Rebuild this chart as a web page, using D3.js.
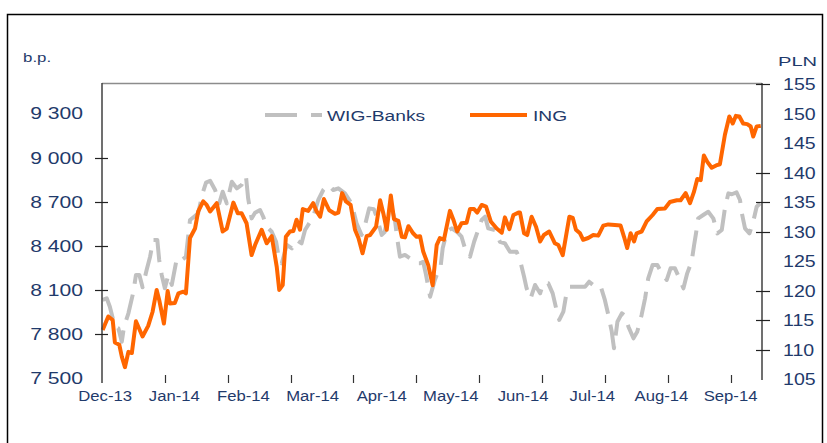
<!DOCTYPE html>
<html><head><meta charset="utf-8">
<script src="https://cdn.jsdelivr.net/npm/d3@7"></script>
<style>html,body{margin:0;padding:0;background:#fff;overflow:hidden}</style>
</head><body><div id="chart"></div>
<script>
// ---------- DATA ----------
const monthLabels = ["Dec-13","Jan-14","Feb-14","Mar-14","Apr-14","May-14","Jun-14","Jul-14","Aug-14","Sep-14"];
const monthLabelDays = [1,23,45,67,89,111,134,156,178,200];   // trading-day index of each label
const monthTickDays = [20,40,60,80,100,120,140,160,180,200];   // trading-day index of x tick marks
const leftTickLabels = [7500,7800,8100,8400,8700,9000,9300];
const leftTickMarks = [7800,8100,8400,8700,9000];
const rightTickLabels = [105,110,115,120,125,130,135,140,145,150,155];
const rightTickMarks = [110,115,120,130,135,140,155];
const seriesNames = ["WIG-Banks","ING"];

const ingDay = [0.2,2.0,3.4,4.1,5.5,6.3,7.3,8.4,9.5,10.8,
12.9,14.7,16.1,17.4,18.2,19.7,20.9,21.6,23.2,24.3,
25.9,26.7,28.0,29.6,30.6,32.2,33.3,34.4,36.5,38.4,
39.7,41.8,43.2,44.4,46.0,47.6,48.7,50.8,52.4,54.0,
55.6,56.4,57.5,58.5,59.8,60.9,61.9,63.0,63.9,65.6,
67.2,68.3,69.4,70.6,72.3,74.1,75.2,76.4,77.6,79.1,
80.5,81.6,82.9,84.2,85.3,87.2,88.5,89.5,90.6,91.9,
92.9,94.3,95.4,96.4,97.5,99.0,100.1,101.2,102.2,103.8,
105.2,106.5,107.5,108.8,110.7,111.8,113.0,114.4,116.0,117.1,
118.4,119.4,120.8,122.2,123.7,125.6,127.2,128.2,129.6,130.9,
132.5,133.0,134.3,135.3,136.7,138.1,139.4,140.6,142.3,144.1,
145.2,146.6,147.6,148.7,149.8,150.8,152.1,153.1,154.7,156.3,
157.9,159.5,161.1,163.2,165.0,166.1,167.1,168.2,169.3,170.1,
171.7,173.3,175.2,176.7,179.1,180.7,182.9,184.1,185.7,187.1,
188.4,189.4,190.5,191.5,192.6,194.0,195.4,196.6,198.2,199.6,
200.7,201.7,202.8,204.0,205.3,206.4,207.2,208.3,209.6];
const ingValue = [113.3,115.6,115.0,111.2,110.8,108.8,107.0,109.6,109.4,114.8,
112.2,114.0,116.4,120.1,118.4,114.4,119.9,117.8,117.9,119.5,
119.8,119.5,128.9,130.5,133.4,135.1,134.5,133.4,134.8,130.0,
130.5,134.9,133.1,133.1,131.4,126.0,127.7,130.3,128.0,129.2,
124.0,120.1,120.9,129.1,130.0,130.1,132.0,130.3,133.8,133.5,
134.8,133.4,132.5,135.5,133.6,133.0,133.2,136.5,135.1,134.5,
130.3,128.9,126.3,129.2,129.4,130.8,135.3,133.1,130.3,136.1,
132.1,131.8,129.1,129.0,130.9,129.7,129.1,129.2,126.6,124.3,
120.9,127.7,128.9,128.6,133.5,132.0,130.0,131.4,131.5,133.8,
133.8,133.2,134.5,134.2,131.7,130.5,129.8,132.4,130.4,132.8,
133.2,133.2,129.7,129.4,132.5,130.8,128.3,129.4,130.0,128.0,
127.7,126.0,129.1,132.5,132.3,130.3,129.7,128.6,128.9,129.4,
129.3,131.0,131.2,131.1,131.0,129.1,127.2,129.7,128.3,129.7,
130.0,131.7,132.8,133.8,133.9,135.0,135.3,135.3,136.5,134.8,
136.8,138.9,138.7,142.9,141.8,140.8,141.2,141.4,146.4,149.5,
148.3,149.6,149.5,148.3,148.2,147.8,146.1,147.8,147.9];

const wigDay = [0.2,1.5,2.5,4.1,5.2,6.3,7.0,8.4,10.0,10.8,
11.9,12.9,14.2,15.3,16.3,17.6,18.2,19.0,20.0,21.1,
22.2,23.8,25.4,26.7,28.0,29.3,30.6,32.0,33.1,34.4,
36.0,37.3,38.4,39.7,41.3,42.9,44.4,45.8,46.5,47.6,
48.7,50.3,51.3,52.4,54.0,55.4,56.1,57.2,58.8,60.4,
61.9,63.5,64.6,65.6,67.2,68.8,70.4,72.0,73.6,75.2,
77.3,79.4,81.0,82.6,83.7,85.0,86.5,87.4,89.0,90.0,
91.1,92.2,93.2,94.0,94.8,96.4,98.0,100.1,101.2,102.2,
103.1,104.4,105.9,107.8,108.4,109.7,111.3,112.9,114.4,115.5,
117.1,118.4,119.7,120.8,121.9,122.9,125.0,126.6,128.2,129.8,
131.9,133.0,134.3,135.1,136.4,137.8,139.4,140.4,142.0,143.4,
144.5,145.5,146.8,147.6,148.9,151.0,153.7,155.0,156.9,158.7,
160.0,161.1,162.2,162.9,164.0,165.4,166.4,167.5,169.1,170.3,
171.7,172.8,173.8,175.2,176.7,178.4,179.7,180.9,182.3,183.7,
185.0,186.2,187.6,188.4,189.0,189.7,191.3,192.9,194.5,195.8,
197.2,198.2,199.3,200.4,201.9,203.0,203.6,204.6,206.0,207.2,
208.3,209.4];
const wigValue = [8031,8042,7985,7849,7838,7747,7849,7940,8087,8201,
8201,8117,8235,8325,8439,8439,8303,8201,8110,8201,
8133,8314,8303,8325,8575,8597,8620,8756,8829,8842,
8779,8688,8767,8688,8835,8790,8813,8874,8722,8586,
8624,8643,8597,8529,8495,8427,8337,8280,8405,8382,
8439,8416,8507,8541,8597,8711,8779,8813,8779,8790,
8756,8688,8552,8473,8541,8654,8648,8597,8473,8495,
8643,8654,8575,8439,8325,8337,8314,8280,8280,8291,
8201,8053,8167,8269,8382,8495,8518,8495,8461,8382,
8325,8427,8507,8575,8597,8518,8507,8427,8416,8359,
8359,8303,8189,8110,8042,8133,8076,8144,8144,8076,
7974,7895,7951,8053,8121,8121,8121,8155,8121,8121,
8031,7929,7815,7702,7883,7940,7924,7849,7770,7815,
7929,8042,8178,8269,8269,8201,8167,8246,8246,8178,
8110,8212,8291,8405,8484,8586,8609,8631,8586,8484,
8507,8654,8756,8750,8763,8711,8620,8518,8484,8563,
8665,8688];

// ---------- CHART ----------
const W = 827, H = 443;
const plot = {left:102, right:762, top:84, bottom:379};
const textColor = "#1F3A6B";
const font = "'Liberation Sans', Arial, sans-serif";

const svg = d3.select("#chart").append("svg").attr("width", W).attr("height", H);

// outer frame
svg.append("rect").attr("x",7.5).attr("y",14.5).attr("width",815).attr("height",440)
  .attr("fill","none").attr("stroke","#000").attr("stroke-width",1.5);

const x = d3.scaleLinear().domain([0,210]).range([plot.left, plot.right]);
const yL = d3.scaleLinear().domain([7500,9500]).range([378,84]);
const yR = d3.scaleLinear().domain([105,155]).range([379,84]);

function label(g, tx, ty, s, size, stretch, anchor){
  return g.append("text")
    .attr("transform", `translate(${tx},${ty}) scale(${stretch},1)`)
    .attr("font-family", font).attr("font-size", size)
    .attr("fill", textColor).attr("text-anchor", anchor).text(s);
}

// plot top border
svg.append("line").attr("x1",plot.left).attr("x2",plot.right).attr("y1",83.5).attr("y2",83.5)
  .attr("stroke","#8c8c8c").attr("stroke-width",1.5);

// lines
const ptsW = d3.zip(wigDay, wigValue);
const ptsI = d3.zip(ingDay, ingValue);
const lineW = d3.line().x(d=>x(d[0])).y(d=>yL(d[1]));
const lineI = d3.line().x(d=>x(d[0])).y(d=>yR(d[1]));

svg.append("path").datum(ptsW).attr("d", lineW)
  .attr("fill","none").attr("stroke","#C0C0C0").attr("stroke-width",4)
  .attr("stroke-dasharray","26,11").attr("stroke-linejoin","round");
svg.append("path").datum(ptsI).attr("d", lineI)
  .attr("fill","none").attr("stroke","#FF6600").attr("stroke-width",4)
  .attr("stroke-linejoin","round");

// left axis
const gL = svg.append("g");
gL.append("line").attr("x1",plot.left).attr("x2",plot.left).attr("y1",83).attr("y2",383)
  .attr("stroke","#404040").attr("stroke-width",1.5);
gL.selectAll("line.t").data(leftTickMarks).join("line").attr("class","t")
  .attr("x1",95).attr("x2",108).attr("y1",d=>Math.round(yL(d))+0.5).attr("y2",d=>Math.round(yL(d))+0.5)
  .attr("stroke","#222").attr("stroke-width",1.2);
const fmtSpace = v => String(v).replace(/\B(?=(\d{3})+(?!\d))/g, " ");
leftTickLabels.forEach(v => label(gL, 83, yL(v)+6, fmtSpace(v), 16.5, 1.28, "end"));
label(gL, 23, 62, "b.p.", 13, 1.3, "start");

// right axis
const gR = svg.append("g");
gR.append("line").attr("x1",plot.right).attr("x2",plot.right).attr("y1",83).attr("y2",380)
  .attr("stroke","#404040").attr("stroke-width",1.5);
gR.selectAll("line.t").data(rightTickMarks).join("line").attr("class","t")
  .attr("x1",756).attr("x2",770).attr("y1",d=>Math.round(yR(d))+0.5).attr("y2",d=>Math.round(yR(d))+0.5)
  .attr("stroke","#222").attr("stroke-width",1.2);
rightTickLabels.forEach(v => label(gR, 783, yR(v)+6, String(v), 16.3, 1.2, "start"));
label(gR, 778, 66, "PLN", 13, 1.55, "start");

// x axis ticks & labels
const gX = svg.append("g");
gX.selectAll("line").data(monthTickDays).join("line")
  .attr("x1",d=>Math.round(x(d))+0.5).attr("x2",d=>Math.round(x(d))+0.5)
  .attr("y1",375).attr("y2",383).attr("stroke","#333").attr("stroke-width",1.2);
monthLabels.forEach((m,i) => label(gX, x(monthLabelDays[i]), 400.5, m, 14.5, 1.15, "middle"));

// legend
const gLeg = svg.append("g");
gLeg.append("line").attr("x1",265).attr("x2",322).attr("y1",115).attr("y2",115)
  .attr("stroke","#C0C0C0").attr("stroke-width",4).attr("stroke-dasharray","32,14");
label(gLeg, 327, 120.5, seriesNames[0], 15.5, 1.24, "start");
gLeg.append("line").attr("x1",470).attr("x2",527).attr("y1",115).attr("y2",115)
  .attr("stroke","#FF6600").attr("stroke-width",4);
label(gLeg, 533, 120.5, seriesNames[1], 15.5, 1.24, "start");
</script>
</body></html>
